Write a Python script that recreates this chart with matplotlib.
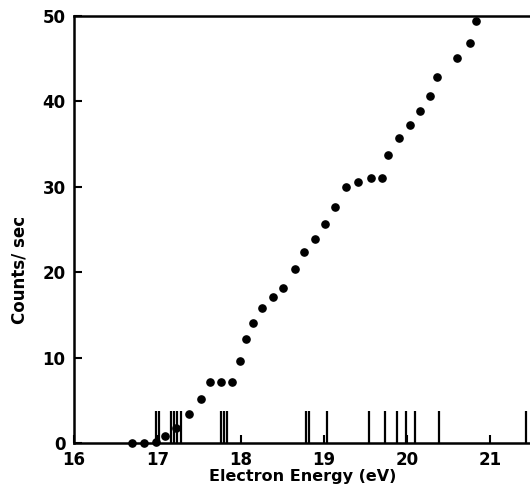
import matplotlib
matplotlib.use("Agg")
import matplotlib.pyplot as plt

energy = [16.70, 16.84, 16.98, 17.09, 17.23, 17.38, 17.52, 17.63, 17.77, 17.90,
          17.99, 18.07, 18.15, 18.26, 18.39, 18.51, 18.65, 18.76, 18.89, 19.01,
          19.14, 19.27, 19.41, 19.57, 19.70, 19.77, 19.90, 20.03, 20.15, 20.27,
          20.36, 20.60, 20.76, 20.83]
counts = [0.0, 0.0, 0.1, 0.8, 1.8, 3.4, 5.2, 7.1, 7.1, 7.1,
          9.6, 12.2, 14.0, 15.8, 17.1, 18.2, 20.4, 22.4, 23.9, 25.7,
          27.6, 30.0, 30.6, 31.0, 31.0, 33.7, 35.7, 37.2, 38.9, 40.6,
          42.9, 45.1, 46.8, 49.4]

# positions of the marker lines along the energy axis
line_energy = [16.98, 17.02, 17.17, 17.20, 17.24, 17.29, 17.76, 17.80, 17.84,
               18.79, 18.82, 19.04, 19.54, 19.74, 19.88, 19.99, 20.09, 20.38, 21.43]
line_height = 3.8

xticks = [16, 17, 18, 19, 20, 21]
yticks = [0, 10, 20, 30, 40, 50]

plt.rcParams['font.family'] = ['DejaVu Sans']
plt.rcParams['font.weight'] = 'bold'

fig = plt.figure(figsize=(5.3, 4.88), dpi=100)
ax = fig.add_axes([74 / 530, 45 / 488, 458 / 530, 427 / 488])

ax.vlines(line_energy, 0, line_height, colors='black', linewidth=1.6)
ax.plot(energy, counts, 'o', color='black', markersize=5.2, clip_on=False)

ax.set_xlim(16, 21.5)
ax.set_ylim(0, 50)
ax.set_xticks(xticks)
ax.set_yticks(yticks)
ax.tick_params(direction='in', length=6, width=1.5, labelsize=12, pad=6)
ax.tick_params(axis='y', pad=6)

for side in ['left', 'bottom', 'top', 'right']:
    ax.spines[side].set_linewidth(1.8)

ax.set_xlabel('Electron Energy (eV)', fontsize=11.5, fontweight='bold', labelpad=0)
fig.text(20 / 530, 1 - 270 / 488, 'Counts/ sec', rotation=90, fontsize=12,
         fontweight='bold', ha='center', va='center')

fig.savefig('out.png', dpi=100)
